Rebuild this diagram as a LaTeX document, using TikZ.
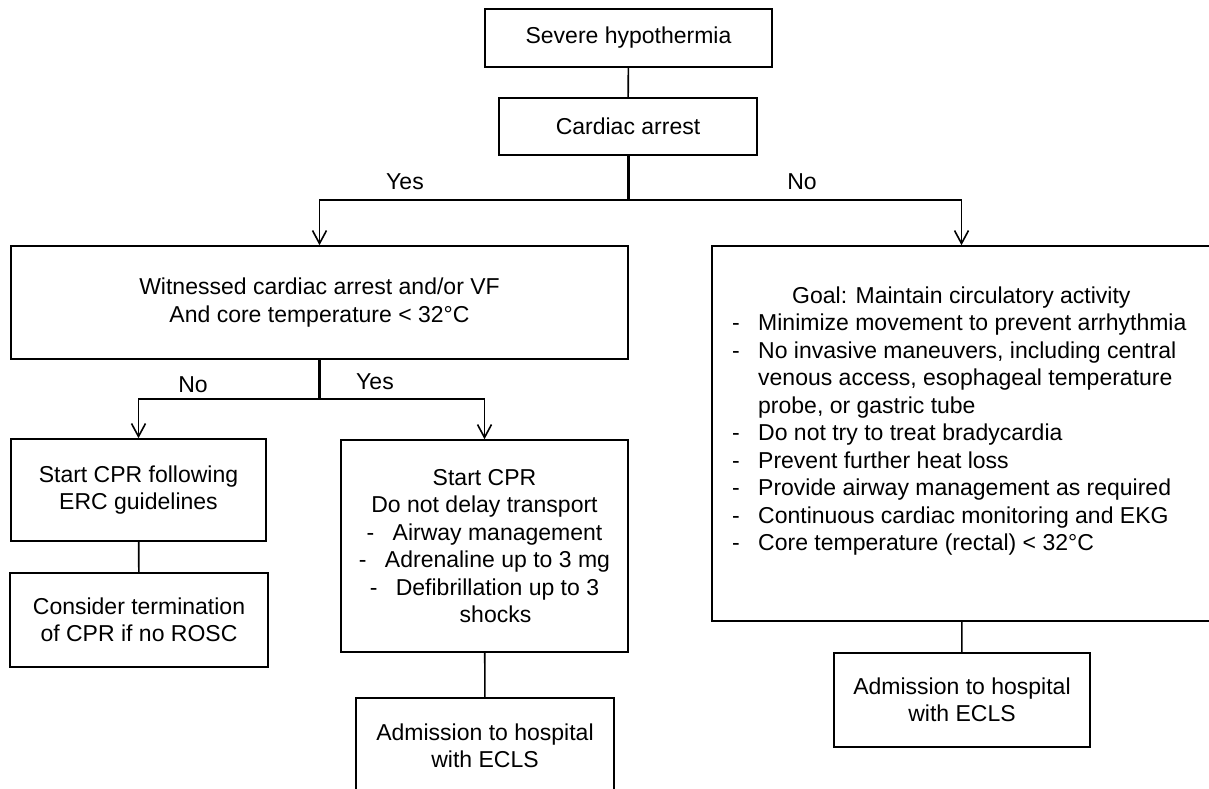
\documentclass[tikz,border=0pt]{standalone}
\usepackage{fontspec}
\setmainfont{Liberation Sans}
\usetikzlibrary{arrows.meta}
\newcommand{\myfs}{\fontsize{23}{27.5}\selectfont}
\newcommand{\dsh}{\makebox[26pt][l]{-}}
\begin{document}
\begin{tikzpicture}[x=1pt,y=-1pt,
  box/.style={draw, line width=1.6pt, rectangle, inner sep=0pt, align=center, font=\myfs},
  lbl/.style={font=\myfs, inner sep=0pt},
  conn/.style={line width=1.6pt},
  trunk/.style={line width=3pt},
  arr/.style={line width=1.6pt, -{Straight Barb[length=13pt,width=14pt]}}]
\useasboundingbox (0,0) rectangle (1209,789);
\fill[white] (0,0) rectangle (1209,789);

\node[box, minimum width=287pt, minimum height=58pt] (severe) at (628.5,38) {Severe hypothermia};
\node[box, minimum width=258pt, minimum height=57pt] (cardiac) at (628,126.5) {Cardiac arrest};
\node[box, minimum width=617pt, minimum height=113pt] (witnessed) at (319.5,302.5)
  {Witnessed cardiac arrest and/or VF\\And core temperature < 32°C};
\node[box, minimum width=499pt, minimum height=375pt] (goalbox) at (961.5,433.5) {};
\node[lbl, anchor=base west] (goaltext) at (732,303) {\begin{tabular}[t]{@{}l@{}}
\hspace*{60pt}Goal: Maintain circulatory activity\\
\dsh Minimize movement to prevent arrhythmia\\
\dsh No invasive maneuvers, including central\\
\hspace*{26pt}venous access, esophageal temperature\\
\hspace*{26pt}probe, or gastric tube\\
\dsh Do not try to treat bradycardia\\
\dsh Prevent further heat loss\\
\dsh Provide airway management as required\\
\dsh Continuous cardiac monitoring and EKG\\
\dsh Core temperature (rectal) < 32°C
\end{tabular}};
\node[box, minimum width=255pt, minimum height=102pt] (startcpr) at (138.5,490)
  {Start CPR following\\ERC guidelines};
\node[box, minimum width=287pt, minimum height=212pt] (mid) at (484.5,546)
  {Start CPR\\Do not delay transport\\\dsh Airway management\\\dsh Adrenaline up to 3 mg\\\dsh Defibrillation up to 3\\\hspace*{22pt}shocks};
\node[box, minimum width=258pt, minimum height=94pt] (consider) at (139,620)
  {Consider termination\\of CPR if no ROSC};
\node[box, minimum width=258pt, minimum height=96pt] (adm1) at (485,746)
  {Admission to hospital\\with ECLS};
\node[box, minimum width=256pt, minimum height=94pt] (adm2) at (962,700)
  {Admission to hospital\\with ECLS};

\node[lbl] (yes1) at (405,182) {Yes};
\node[lbl] (no1) at (802,182) {No};
\node[lbl] (no2) at (193,385) {No};
\node[lbl] (yes2) at (375,382) {Yes};

\draw[conn] (severe) -- (cardiac);
\coordinate (j1) at (628,200);
\draw[trunk] (cardiac.south) -- (j1);
\draw[arr] (j1) -| (witnessed.north);
\draw[arr] (j1) -| (goalbox.north);
\coordinate (j2) at (319.5,399);
\draw[trunk] (witnessed.south) -- (j2);
\draw[arr] (j2) -| (startcpr.north);
\draw[arr] (j2) -| (mid.north);
\draw[conn] (startcpr) -- (consider);
\draw[conn] (mid) -- (adm1);
\draw[conn] (goalbox) -- (adm2);
\end{tikzpicture}
\end{document}
